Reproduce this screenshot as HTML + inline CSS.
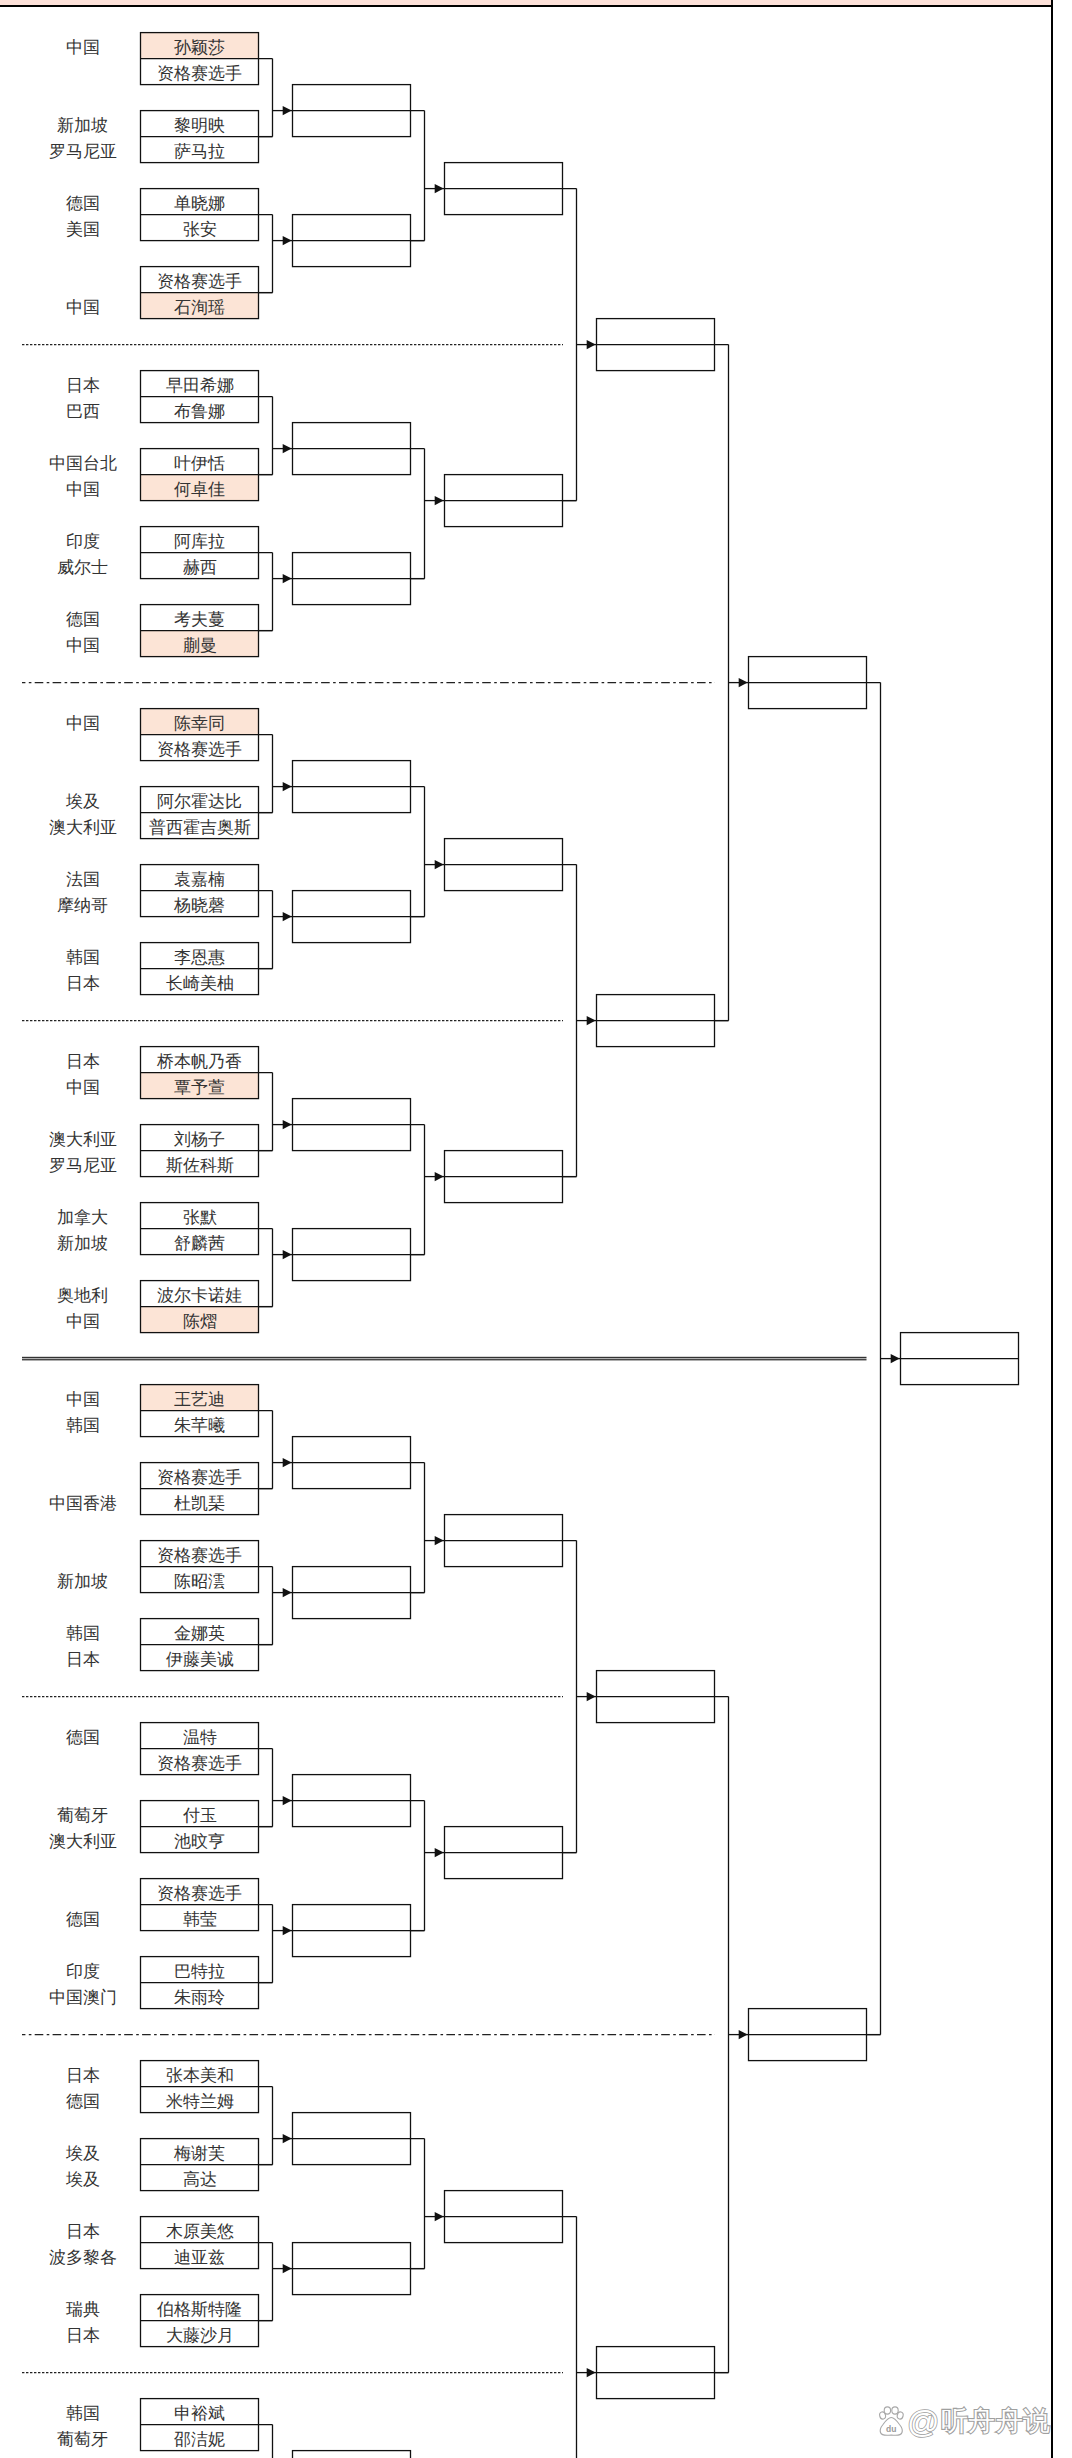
<!DOCTYPE html>
<html><head><meta charset="utf-8"><style>
html,body{margin:0;padding:0;background:#fff;}
body{width:1072px;height:2458px;position:relative;overflow:hidden;font-family:"Liberation Sans",sans-serif;}
#top{position:absolute;left:0;top:0;width:1052px;height:5px;background:#FDE1D9;}
#topl{position:absolute;left:0;top:5px;width:1053px;height:2px;background:#000;}
#rl{position:absolute;left:1051px;top:0;width:2px;height:2458px;background:#000;}
svg{position:absolute;left:0;top:0;}
.c,.n{position:absolute;height:26px;line-height:26px;font-size:16.5px;color:#333;white-space:nowrap;transform:translateX(-50%);margin-top:1.5px;}

.wt{position:absolute;left:29px;top:0;font-size:27px;line-height:34px;color:#fff;white-space:nowrap;
 text-shadow:-1px -1px 0 #aaa,1px -1px 0 #aaa,-1px 1px 0 #aaa,1px 1px 0 #aaa,0 1px 0 #aaa,0 -1px 0 #aaa,1px 0 0 #aaa,-1px 0 0 #aaa;}
</style></head><body>
<div id="top"></div><div id="topl"></div>
<svg width="1072" height="2458" viewBox="0 0 1072 2458" shape-rendering="auto">
<rect x="140.5" y="32.6" width="118" height="26" fill="#FCE4D6"/>
<rect x="140.5" y="292.6" width="118" height="26" fill="#FCE4D6"/>
<rect x="140.5" y="474.6" width="118" height="26" fill="#FCE4D6"/>
<rect x="140.5" y="630.6" width="118" height="26" fill="#FCE4D6"/>
<rect x="140.5" y="708.6" width="118" height="26" fill="#FCE4D6"/>
<rect x="140.5" y="1072.6" width="118" height="26" fill="#FCE4D6"/>
<rect x="140.5" y="1306.6" width="118" height="26" fill="#FCE4D6"/>
<rect x="140.5" y="1384.6" width="118" height="26" fill="#FCE4D6"/>
<rect x="140.5" y="32.6" width="118" height="52" fill="none" stroke="#111" stroke-width="1.3"/>
<line x1="140.5" y1="58.6" x2="272.5" y2="58.6" stroke="#111" stroke-width="1.3"/>
<rect x="140.5" y="110.6" width="118" height="52" fill="none" stroke="#111" stroke-width="1.3"/>
<line x1="140.5" y1="136.6" x2="272.5" y2="136.6" stroke="#111" stroke-width="1.3"/>
<rect x="140.5" y="188.6" width="118" height="52" fill="none" stroke="#111" stroke-width="1.3"/>
<line x1="140.5" y1="214.6" x2="272.5" y2="214.6" stroke="#111" stroke-width="1.3"/>
<rect x="140.5" y="266.6" width="118" height="52" fill="none" stroke="#111" stroke-width="1.3"/>
<line x1="140.5" y1="292.6" x2="272.5" y2="292.6" stroke="#111" stroke-width="1.3"/>
<line x1="272.5" y1="58.6" x2="272.5" y2="136.6" stroke="#111" stroke-width="1.3"/>
<line x1="272.5" y1="136.6" x2="258.5" y2="136.6" stroke="#111" stroke-width="1.3"/>
<line x1="272.5" y1="110.6" x2="292.5" y2="110.6" stroke="#111" stroke-width="1.3"/>
<path d="M291.7 110.6L282.7 106L282.7 115.2Z" fill="#111"/>
<rect x="292.5" y="84.6" width="118" height="52" fill="none" stroke="#111" stroke-width="1.3"/>
<line x1="292.5" y1="110.6" x2="424.5" y2="110.6" stroke="#111" stroke-width="1.3"/>
<line x1="272.5" y1="214.6" x2="272.5" y2="292.6" stroke="#111" stroke-width="1.3"/>
<line x1="272.5" y1="292.6" x2="258.5" y2="292.6" stroke="#111" stroke-width="1.3"/>
<line x1="272.5" y1="240.6" x2="292.5" y2="240.6" stroke="#111" stroke-width="1.3"/>
<path d="M291.7 240.6L282.7 236L282.7 245.2Z" fill="#111"/>
<rect x="292.5" y="214.6" width="118" height="52" fill="none" stroke="#111" stroke-width="1.3"/>
<line x1="292.5" y1="240.6" x2="424.5" y2="240.6" stroke="#111" stroke-width="1.3"/>
<line x1="424.5" y1="110.6" x2="424.5" y2="240.6" stroke="#111" stroke-width="1.3"/>
<line x1="424.5" y1="240.6" x2="410.5" y2="240.6" stroke="#111" stroke-width="1.3"/>
<line x1="424.5" y1="188.6" x2="444.5" y2="188.6" stroke="#111" stroke-width="1.3"/>
<path d="M443.7 188.6L434.7 184L434.7 193.2Z" fill="#111"/>
<rect x="444.5" y="162.6" width="118" height="52" fill="none" stroke="#111" stroke-width="1.3"/>
<line x1="444.5" y1="188.6" x2="576.5" y2="188.6" stroke="#111" stroke-width="1.3"/>
<rect x="140.5" y="370.6" width="118" height="52" fill="none" stroke="#111" stroke-width="1.3"/>
<line x1="140.5" y1="396.6" x2="272.5" y2="396.6" stroke="#111" stroke-width="1.3"/>
<rect x="140.5" y="448.6" width="118" height="52" fill="none" stroke="#111" stroke-width="1.3"/>
<line x1="140.5" y1="474.6" x2="272.5" y2="474.6" stroke="#111" stroke-width="1.3"/>
<rect x="140.5" y="526.6" width="118" height="52" fill="none" stroke="#111" stroke-width="1.3"/>
<line x1="140.5" y1="552.6" x2="272.5" y2="552.6" stroke="#111" stroke-width="1.3"/>
<rect x="140.5" y="604.6" width="118" height="52" fill="none" stroke="#111" stroke-width="1.3"/>
<line x1="140.5" y1="630.6" x2="272.5" y2="630.6" stroke="#111" stroke-width="1.3"/>
<line x1="272.5" y1="396.6" x2="272.5" y2="474.6" stroke="#111" stroke-width="1.3"/>
<line x1="272.5" y1="474.6" x2="258.5" y2="474.6" stroke="#111" stroke-width="1.3"/>
<line x1="272.5" y1="448.6" x2="292.5" y2="448.6" stroke="#111" stroke-width="1.3"/>
<path d="M291.7 448.6L282.7 444L282.7 453.2Z" fill="#111"/>
<rect x="292.5" y="422.6" width="118" height="52" fill="none" stroke="#111" stroke-width="1.3"/>
<line x1="292.5" y1="448.6" x2="424.5" y2="448.6" stroke="#111" stroke-width="1.3"/>
<line x1="272.5" y1="552.6" x2="272.5" y2="630.6" stroke="#111" stroke-width="1.3"/>
<line x1="272.5" y1="630.6" x2="258.5" y2="630.6" stroke="#111" stroke-width="1.3"/>
<line x1="272.5" y1="578.6" x2="292.5" y2="578.6" stroke="#111" stroke-width="1.3"/>
<path d="M291.7 578.6L282.7 574L282.7 583.2Z" fill="#111"/>
<rect x="292.5" y="552.6" width="118" height="52" fill="none" stroke="#111" stroke-width="1.3"/>
<line x1="292.5" y1="578.6" x2="424.5" y2="578.6" stroke="#111" stroke-width="1.3"/>
<line x1="424.5" y1="448.6" x2="424.5" y2="578.6" stroke="#111" stroke-width="1.3"/>
<line x1="424.5" y1="578.6" x2="410.5" y2="578.6" stroke="#111" stroke-width="1.3"/>
<line x1="424.5" y1="500.6" x2="444.5" y2="500.6" stroke="#111" stroke-width="1.3"/>
<path d="M443.7 500.6L434.7 496L434.7 505.2Z" fill="#111"/>
<rect x="444.5" y="474.6" width="118" height="52" fill="none" stroke="#111" stroke-width="1.3"/>
<line x1="444.5" y1="500.6" x2="576.5" y2="500.6" stroke="#111" stroke-width="1.3"/>
<rect x="140.5" y="708.6" width="118" height="52" fill="none" stroke="#111" stroke-width="1.3"/>
<line x1="140.5" y1="734.6" x2="272.5" y2="734.6" stroke="#111" stroke-width="1.3"/>
<rect x="140.5" y="786.6" width="118" height="52" fill="none" stroke="#111" stroke-width="1.3"/>
<line x1="140.5" y1="812.6" x2="272.5" y2="812.6" stroke="#111" stroke-width="1.3"/>
<rect x="140.5" y="864.6" width="118" height="52" fill="none" stroke="#111" stroke-width="1.3"/>
<line x1="140.5" y1="890.6" x2="272.5" y2="890.6" stroke="#111" stroke-width="1.3"/>
<rect x="140.5" y="942.6" width="118" height="52" fill="none" stroke="#111" stroke-width="1.3"/>
<line x1="140.5" y1="968.6" x2="272.5" y2="968.6" stroke="#111" stroke-width="1.3"/>
<line x1="272.5" y1="734.6" x2="272.5" y2="812.6" stroke="#111" stroke-width="1.3"/>
<line x1="272.5" y1="812.6" x2="258.5" y2="812.6" stroke="#111" stroke-width="1.3"/>
<line x1="272.5" y1="786.6" x2="292.5" y2="786.6" stroke="#111" stroke-width="1.3"/>
<path d="M291.7 786.6L282.7 782L282.7 791.2Z" fill="#111"/>
<rect x="292.5" y="760.6" width="118" height="52" fill="none" stroke="#111" stroke-width="1.3"/>
<line x1="292.5" y1="786.6" x2="424.5" y2="786.6" stroke="#111" stroke-width="1.3"/>
<line x1="272.5" y1="890.6" x2="272.5" y2="968.6" stroke="#111" stroke-width="1.3"/>
<line x1="272.5" y1="968.6" x2="258.5" y2="968.6" stroke="#111" stroke-width="1.3"/>
<line x1="272.5" y1="916.6" x2="292.5" y2="916.6" stroke="#111" stroke-width="1.3"/>
<path d="M291.7 916.6L282.7 912L282.7 921.2Z" fill="#111"/>
<rect x="292.5" y="890.6" width="118" height="52" fill="none" stroke="#111" stroke-width="1.3"/>
<line x1="292.5" y1="916.6" x2="424.5" y2="916.6" stroke="#111" stroke-width="1.3"/>
<line x1="424.5" y1="786.6" x2="424.5" y2="916.6" stroke="#111" stroke-width="1.3"/>
<line x1="424.5" y1="916.6" x2="410.5" y2="916.6" stroke="#111" stroke-width="1.3"/>
<line x1="424.5" y1="864.6" x2="444.5" y2="864.6" stroke="#111" stroke-width="1.3"/>
<path d="M443.7 864.6L434.7 860L434.7 869.2Z" fill="#111"/>
<rect x="444.5" y="838.6" width="118" height="52" fill="none" stroke="#111" stroke-width="1.3"/>
<line x1="444.5" y1="864.6" x2="576.5" y2="864.6" stroke="#111" stroke-width="1.3"/>
<rect x="140.5" y="1046.6" width="118" height="52" fill="none" stroke="#111" stroke-width="1.3"/>
<line x1="140.5" y1="1072.6" x2="272.5" y2="1072.6" stroke="#111" stroke-width="1.3"/>
<rect x="140.5" y="1124.6" width="118" height="52" fill="none" stroke="#111" stroke-width="1.3"/>
<line x1="140.5" y1="1150.6" x2="272.5" y2="1150.6" stroke="#111" stroke-width="1.3"/>
<rect x="140.5" y="1202.6" width="118" height="52" fill="none" stroke="#111" stroke-width="1.3"/>
<line x1="140.5" y1="1228.6" x2="272.5" y2="1228.6" stroke="#111" stroke-width="1.3"/>
<rect x="140.5" y="1280.6" width="118" height="52" fill="none" stroke="#111" stroke-width="1.3"/>
<line x1="140.5" y1="1306.6" x2="272.5" y2="1306.6" stroke="#111" stroke-width="1.3"/>
<line x1="272.5" y1="1072.6" x2="272.5" y2="1150.6" stroke="#111" stroke-width="1.3"/>
<line x1="272.5" y1="1150.6" x2="258.5" y2="1150.6" stroke="#111" stroke-width="1.3"/>
<line x1="272.5" y1="1124.6" x2="292.5" y2="1124.6" stroke="#111" stroke-width="1.3"/>
<path d="M291.7 1124.6L282.7 1120L282.7 1129.2Z" fill="#111"/>
<rect x="292.5" y="1098.6" width="118" height="52" fill="none" stroke="#111" stroke-width="1.3"/>
<line x1="292.5" y1="1124.6" x2="424.5" y2="1124.6" stroke="#111" stroke-width="1.3"/>
<line x1="272.5" y1="1228.6" x2="272.5" y2="1306.6" stroke="#111" stroke-width="1.3"/>
<line x1="272.5" y1="1306.6" x2="258.5" y2="1306.6" stroke="#111" stroke-width="1.3"/>
<line x1="272.5" y1="1254.6" x2="292.5" y2="1254.6" stroke="#111" stroke-width="1.3"/>
<path d="M291.7 1254.6L282.7 1250L282.7 1259.2Z" fill="#111"/>
<rect x="292.5" y="1228.6" width="118" height="52" fill="none" stroke="#111" stroke-width="1.3"/>
<line x1="292.5" y1="1254.6" x2="424.5" y2="1254.6" stroke="#111" stroke-width="1.3"/>
<line x1="424.5" y1="1124.6" x2="424.5" y2="1254.6" stroke="#111" stroke-width="1.3"/>
<line x1="424.5" y1="1254.6" x2="410.5" y2="1254.6" stroke="#111" stroke-width="1.3"/>
<line x1="424.5" y1="1176.6" x2="444.5" y2="1176.6" stroke="#111" stroke-width="1.3"/>
<path d="M443.7 1176.6L434.7 1172L434.7 1181.2Z" fill="#111"/>
<rect x="444.5" y="1150.6" width="118" height="52" fill="none" stroke="#111" stroke-width="1.3"/>
<line x1="444.5" y1="1176.6" x2="576.5" y2="1176.6" stroke="#111" stroke-width="1.3"/>
<rect x="140.5" y="1384.6" width="118" height="52" fill="none" stroke="#111" stroke-width="1.3"/>
<line x1="140.5" y1="1410.6" x2="272.5" y2="1410.6" stroke="#111" stroke-width="1.3"/>
<rect x="140.5" y="1462.6" width="118" height="52" fill="none" stroke="#111" stroke-width="1.3"/>
<line x1="140.5" y1="1488.6" x2="272.5" y2="1488.6" stroke="#111" stroke-width="1.3"/>
<rect x="140.5" y="1540.6" width="118" height="52" fill="none" stroke="#111" stroke-width="1.3"/>
<line x1="140.5" y1="1566.6" x2="272.5" y2="1566.6" stroke="#111" stroke-width="1.3"/>
<rect x="140.5" y="1618.6" width="118" height="52" fill="none" stroke="#111" stroke-width="1.3"/>
<line x1="140.5" y1="1644.6" x2="272.5" y2="1644.6" stroke="#111" stroke-width="1.3"/>
<line x1="272.5" y1="1410.6" x2="272.5" y2="1488.6" stroke="#111" stroke-width="1.3"/>
<line x1="272.5" y1="1488.6" x2="258.5" y2="1488.6" stroke="#111" stroke-width="1.3"/>
<line x1="272.5" y1="1462.6" x2="292.5" y2="1462.6" stroke="#111" stroke-width="1.3"/>
<path d="M291.7 1462.6L282.7 1458L282.7 1467.2Z" fill="#111"/>
<rect x="292.5" y="1436.6" width="118" height="52" fill="none" stroke="#111" stroke-width="1.3"/>
<line x1="292.5" y1="1462.6" x2="424.5" y2="1462.6" stroke="#111" stroke-width="1.3"/>
<line x1="272.5" y1="1566.6" x2="272.5" y2="1644.6" stroke="#111" stroke-width="1.3"/>
<line x1="272.5" y1="1644.6" x2="258.5" y2="1644.6" stroke="#111" stroke-width="1.3"/>
<line x1="272.5" y1="1592.6" x2="292.5" y2="1592.6" stroke="#111" stroke-width="1.3"/>
<path d="M291.7 1592.6L282.7 1588L282.7 1597.2Z" fill="#111"/>
<rect x="292.5" y="1566.6" width="118" height="52" fill="none" stroke="#111" stroke-width="1.3"/>
<line x1="292.5" y1="1592.6" x2="424.5" y2="1592.6" stroke="#111" stroke-width="1.3"/>
<line x1="424.5" y1="1462.6" x2="424.5" y2="1592.6" stroke="#111" stroke-width="1.3"/>
<line x1="424.5" y1="1592.6" x2="410.5" y2="1592.6" stroke="#111" stroke-width="1.3"/>
<line x1="424.5" y1="1540.6" x2="444.5" y2="1540.6" stroke="#111" stroke-width="1.3"/>
<path d="M443.7 1540.6L434.7 1536L434.7 1545.2Z" fill="#111"/>
<rect x="444.5" y="1514.6" width="118" height="52" fill="none" stroke="#111" stroke-width="1.3"/>
<line x1="444.5" y1="1540.6" x2="576.5" y2="1540.6" stroke="#111" stroke-width="1.3"/>
<rect x="140.5" y="1722.6" width="118" height="52" fill="none" stroke="#111" stroke-width="1.3"/>
<line x1="140.5" y1="1748.6" x2="272.5" y2="1748.6" stroke="#111" stroke-width="1.3"/>
<rect x="140.5" y="1800.6" width="118" height="52" fill="none" stroke="#111" stroke-width="1.3"/>
<line x1="140.5" y1="1826.6" x2="272.5" y2="1826.6" stroke="#111" stroke-width="1.3"/>
<rect x="140.5" y="1878.6" width="118" height="52" fill="none" stroke="#111" stroke-width="1.3"/>
<line x1="140.5" y1="1904.6" x2="272.5" y2="1904.6" stroke="#111" stroke-width="1.3"/>
<rect x="140.5" y="1956.6" width="118" height="52" fill="none" stroke="#111" stroke-width="1.3"/>
<line x1="140.5" y1="1982.6" x2="272.5" y2="1982.6" stroke="#111" stroke-width="1.3"/>
<line x1="272.5" y1="1748.6" x2="272.5" y2="1826.6" stroke="#111" stroke-width="1.3"/>
<line x1="272.5" y1="1826.6" x2="258.5" y2="1826.6" stroke="#111" stroke-width="1.3"/>
<line x1="272.5" y1="1800.6" x2="292.5" y2="1800.6" stroke="#111" stroke-width="1.3"/>
<path d="M291.7 1800.6L282.7 1796L282.7 1805.2Z" fill="#111"/>
<rect x="292.5" y="1774.6" width="118" height="52" fill="none" stroke="#111" stroke-width="1.3"/>
<line x1="292.5" y1="1800.6" x2="424.5" y2="1800.6" stroke="#111" stroke-width="1.3"/>
<line x1="272.5" y1="1904.6" x2="272.5" y2="1982.6" stroke="#111" stroke-width="1.3"/>
<line x1="272.5" y1="1982.6" x2="258.5" y2="1982.6" stroke="#111" stroke-width="1.3"/>
<line x1="272.5" y1="1930.6" x2="292.5" y2="1930.6" stroke="#111" stroke-width="1.3"/>
<path d="M291.7 1930.6L282.7 1926L282.7 1935.2Z" fill="#111"/>
<rect x="292.5" y="1904.6" width="118" height="52" fill="none" stroke="#111" stroke-width="1.3"/>
<line x1="292.5" y1="1930.6" x2="424.5" y2="1930.6" stroke="#111" stroke-width="1.3"/>
<line x1="424.5" y1="1800.6" x2="424.5" y2="1930.6" stroke="#111" stroke-width="1.3"/>
<line x1="424.5" y1="1930.6" x2="410.5" y2="1930.6" stroke="#111" stroke-width="1.3"/>
<line x1="424.5" y1="1852.6" x2="444.5" y2="1852.6" stroke="#111" stroke-width="1.3"/>
<path d="M443.7 1852.6L434.7 1848L434.7 1857.2Z" fill="#111"/>
<rect x="444.5" y="1826.6" width="118" height="52" fill="none" stroke="#111" stroke-width="1.3"/>
<line x1="444.5" y1="1852.6" x2="576.5" y2="1852.6" stroke="#111" stroke-width="1.3"/>
<rect x="140.5" y="2060.6" width="118" height="52" fill="none" stroke="#111" stroke-width="1.3"/>
<line x1="140.5" y1="2086.6" x2="272.5" y2="2086.6" stroke="#111" stroke-width="1.3"/>
<rect x="140.5" y="2138.6" width="118" height="52" fill="none" stroke="#111" stroke-width="1.3"/>
<line x1="140.5" y1="2164.6" x2="272.5" y2="2164.6" stroke="#111" stroke-width="1.3"/>
<rect x="140.5" y="2216.6" width="118" height="52" fill="none" stroke="#111" stroke-width="1.3"/>
<line x1="140.5" y1="2242.6" x2="272.5" y2="2242.6" stroke="#111" stroke-width="1.3"/>
<rect x="140.5" y="2294.6" width="118" height="52" fill="none" stroke="#111" stroke-width="1.3"/>
<line x1="140.5" y1="2320.6" x2="272.5" y2="2320.6" stroke="#111" stroke-width="1.3"/>
<line x1="272.5" y1="2086.6" x2="272.5" y2="2164.6" stroke="#111" stroke-width="1.3"/>
<line x1="272.5" y1="2164.6" x2="258.5" y2="2164.6" stroke="#111" stroke-width="1.3"/>
<line x1="272.5" y1="2138.6" x2="292.5" y2="2138.6" stroke="#111" stroke-width="1.3"/>
<path d="M291.7 2138.6L282.7 2134L282.7 2143.2Z" fill="#111"/>
<rect x="292.5" y="2112.6" width="118" height="52" fill="none" stroke="#111" stroke-width="1.3"/>
<line x1="292.5" y1="2138.6" x2="424.5" y2="2138.6" stroke="#111" stroke-width="1.3"/>
<line x1="272.5" y1="2242.6" x2="272.5" y2="2320.6" stroke="#111" stroke-width="1.3"/>
<line x1="272.5" y1="2320.6" x2="258.5" y2="2320.6" stroke="#111" stroke-width="1.3"/>
<line x1="272.5" y1="2268.6" x2="292.5" y2="2268.6" stroke="#111" stroke-width="1.3"/>
<path d="M291.7 2268.6L282.7 2264L282.7 2273.2Z" fill="#111"/>
<rect x="292.5" y="2242.6" width="118" height="52" fill="none" stroke="#111" stroke-width="1.3"/>
<line x1="292.5" y1="2268.6" x2="424.5" y2="2268.6" stroke="#111" stroke-width="1.3"/>
<line x1="424.5" y1="2138.6" x2="424.5" y2="2268.6" stroke="#111" stroke-width="1.3"/>
<line x1="424.5" y1="2268.6" x2="410.5" y2="2268.6" stroke="#111" stroke-width="1.3"/>
<line x1="424.5" y1="2216.6" x2="444.5" y2="2216.6" stroke="#111" stroke-width="1.3"/>
<path d="M443.7 2216.6L434.7 2212L434.7 2221.2Z" fill="#111"/>
<rect x="444.5" y="2190.6" width="118" height="52" fill="none" stroke="#111" stroke-width="1.3"/>
<line x1="444.5" y1="2216.6" x2="576.5" y2="2216.6" stroke="#111" stroke-width="1.3"/>
<rect x="140.5" y="2398.6" width="118" height="52" fill="none" stroke="#111" stroke-width="1.3"/>
<line x1="140.5" y1="2424.6" x2="272.5" y2="2424.6" stroke="#111" stroke-width="1.3"/>
<rect x="140.5" y="2476.6" width="118" height="52" fill="none" stroke="#111" stroke-width="1.3"/>
<line x1="140.5" y1="2502.6" x2="272.5" y2="2502.6" stroke="#111" stroke-width="1.3"/>
<rect x="140.5" y="2554.6" width="118" height="52" fill="none" stroke="#111" stroke-width="1.3"/>
<line x1="140.5" y1="2580.6" x2="272.5" y2="2580.6" stroke="#111" stroke-width="1.3"/>
<rect x="140.5" y="2632.6" width="118" height="52" fill="none" stroke="#111" stroke-width="1.3"/>
<line x1="140.5" y1="2658.6" x2="272.5" y2="2658.6" stroke="#111" stroke-width="1.3"/>
<line x1="272.5" y1="2424.6" x2="272.5" y2="2502.6" stroke="#111" stroke-width="1.3"/>
<line x1="272.5" y1="2502.6" x2="258.5" y2="2502.6" stroke="#111" stroke-width="1.3"/>
<line x1="272.5" y1="2476.6" x2="292.5" y2="2476.6" stroke="#111" stroke-width="1.3"/>
<path d="M291.7 2476.6L282.7 2472L282.7 2481.2Z" fill="#111"/>
<rect x="292.5" y="2450.6" width="118" height="52" fill="none" stroke="#111" stroke-width="1.3"/>
<line x1="292.5" y1="2476.6" x2="424.5" y2="2476.6" stroke="#111" stroke-width="1.3"/>
<line x1="272.5" y1="2580.6" x2="272.5" y2="2658.6" stroke="#111" stroke-width="1.3"/>
<line x1="272.5" y1="2658.6" x2="258.5" y2="2658.6" stroke="#111" stroke-width="1.3"/>
<line x1="272.5" y1="2606.6" x2="292.5" y2="2606.6" stroke="#111" stroke-width="1.3"/>
<path d="M291.7 2606.6L282.7 2602L282.7 2611.2Z" fill="#111"/>
<rect x="292.5" y="2580.6" width="118" height="52" fill="none" stroke="#111" stroke-width="1.3"/>
<line x1="292.5" y1="2606.6" x2="424.5" y2="2606.6" stroke="#111" stroke-width="1.3"/>
<line x1="424.5" y1="2476.6" x2="424.5" y2="2606.6" stroke="#111" stroke-width="1.3"/>
<line x1="424.5" y1="2606.6" x2="410.5" y2="2606.6" stroke="#111" stroke-width="1.3"/>
<line x1="424.5" y1="2528.6" x2="444.5" y2="2528.6" stroke="#111" stroke-width="1.3"/>
<path d="M443.7 2528.6L434.7 2524L434.7 2533.2Z" fill="#111"/>
<rect x="444.5" y="2502.6" width="118" height="52" fill="none" stroke="#111" stroke-width="1.3"/>
<line x1="444.5" y1="2528.6" x2="576.5" y2="2528.6" stroke="#111" stroke-width="1.3"/>
<line x1="576.5" y1="188.6" x2="576.5" y2="500.6" stroke="#111" stroke-width="1.3"/>
<line x1="576.5" y1="500.6" x2="562.5" y2="500.6" stroke="#111" stroke-width="1.3"/>
<line x1="576.5" y1="344.6" x2="596.5" y2="344.6" stroke="#111" stroke-width="1.3"/>
<path d="M595.7 344.6L586.7 340L586.7 349.2Z" fill="#111"/>
<rect x="596.5" y="318.6" width="118" height="52" fill="none" stroke="#111" stroke-width="1.3"/>
<line x1="596.5" y1="344.6" x2="728.5" y2="344.6" stroke="#111" stroke-width="1.3"/>
<line x1="576.5" y1="864.6" x2="576.5" y2="1176.6" stroke="#111" stroke-width="1.3"/>
<line x1="576.5" y1="1176.6" x2="562.5" y2="1176.6" stroke="#111" stroke-width="1.3"/>
<line x1="576.5" y1="1020.6" x2="596.5" y2="1020.6" stroke="#111" stroke-width="1.3"/>
<path d="M595.7 1020.6L586.7 1016L586.7 1025.2Z" fill="#111"/>
<rect x="596.5" y="994.6" width="118" height="52" fill="none" stroke="#111" stroke-width="1.3"/>
<line x1="596.5" y1="1020.6" x2="728.5" y2="1020.6" stroke="#111" stroke-width="1.3"/>
<line x1="728.5" y1="344.6" x2="728.5" y2="1020.6" stroke="#111" stroke-width="1.3"/>
<line x1="728.5" y1="1020.6" x2="714.5" y2="1020.6" stroke="#111" stroke-width="1.3"/>
<line x1="728.5" y1="682.6" x2="748.5" y2="682.6" stroke="#111" stroke-width="1.3"/>
<path d="M747.7 682.6L738.7 678L738.7 687.2Z" fill="#111"/>
<rect x="748.5" y="656.6" width="118" height="52" fill="none" stroke="#111" stroke-width="1.3"/>
<line x1="748.5" y1="682.6" x2="880.5" y2="682.6" stroke="#111" stroke-width="1.3"/>
<line x1="576.5" y1="1540.6" x2="576.5" y2="1852.6" stroke="#111" stroke-width="1.3"/>
<line x1="576.5" y1="1852.6" x2="562.5" y2="1852.6" stroke="#111" stroke-width="1.3"/>
<line x1="576.5" y1="1696.6" x2="596.5" y2="1696.6" stroke="#111" stroke-width="1.3"/>
<path d="M595.7 1696.6L586.7 1692L586.7 1701.2Z" fill="#111"/>
<rect x="596.5" y="1670.6" width="118" height="52" fill="none" stroke="#111" stroke-width="1.3"/>
<line x1="596.5" y1="1696.6" x2="728.5" y2="1696.6" stroke="#111" stroke-width="1.3"/>
<line x1="576.5" y1="2216.6" x2="576.5" y2="2528.6" stroke="#111" stroke-width="1.3"/>
<line x1="576.5" y1="2528.6" x2="562.5" y2="2528.6" stroke="#111" stroke-width="1.3"/>
<line x1="576.5" y1="2372.6" x2="596.5" y2="2372.6" stroke="#111" stroke-width="1.3"/>
<path d="M595.7 2372.6L586.7 2368L586.7 2377.2Z" fill="#111"/>
<rect x="596.5" y="2346.6" width="118" height="52" fill="none" stroke="#111" stroke-width="1.3"/>
<line x1="596.5" y1="2372.6" x2="728.5" y2="2372.6" stroke="#111" stroke-width="1.3"/>
<line x1="728.5" y1="1696.6" x2="728.5" y2="2372.6" stroke="#111" stroke-width="1.3"/>
<line x1="728.5" y1="2372.6" x2="714.5" y2="2372.6" stroke="#111" stroke-width="1.3"/>
<line x1="728.5" y1="2034.6" x2="748.5" y2="2034.6" stroke="#111" stroke-width="1.3"/>
<path d="M747.7 2034.6L738.7 2030L738.7 2039.2Z" fill="#111"/>
<rect x="748.5" y="2008.6" width="118" height="52" fill="none" stroke="#111" stroke-width="1.3"/>
<line x1="748.5" y1="2034.6" x2="880.5" y2="2034.6" stroke="#111" stroke-width="1.3"/>
<line x1="880.5" y1="682.6" x2="880.5" y2="2034.6" stroke="#111" stroke-width="1.3"/>
<line x1="880.5" y1="2034.6" x2="866.5" y2="2034.6" stroke="#111" stroke-width="1.3"/>
<line x1="880.5" y1="1358.6" x2="900.5" y2="1358.6" stroke="#111" stroke-width="1.3"/>
<path d="M899.7 1358.6L890.7 1354L890.7 1363.2Z" fill="#111"/>
<rect x="900.5" y="1332.6" width="118" height="52" fill="none" stroke="#111" stroke-width="1.3"/>
<line x1="900.5" y1="1358.6" x2="1018.5" y2="1358.6" stroke="#111" stroke-width="1.3"/>
<line x1="22" y1="344.6" x2="563" y2="344.6" stroke="#222" stroke-width="1.3" stroke-dasharray="2.4 1.6"/>
<line x1="22" y1="1020.6" x2="563" y2="1020.6" stroke="#222" stroke-width="1.3" stroke-dasharray="2.4 1.6"/>
<line x1="22" y1="682.6" x2="715" y2="682.6" stroke="#222" stroke-width="1.3" stroke-dasharray="8.6 3.4 2.6 3.3" stroke-dashoffset="5.2"/>
<line x1="22" y1="1696.6" x2="563" y2="1696.6" stroke="#222" stroke-width="1.3" stroke-dasharray="2.4 1.6"/>
<line x1="22" y1="2372.6" x2="563" y2="2372.6" stroke="#222" stroke-width="1.3" stroke-dasharray="2.4 1.6"/>
<line x1="22" y1="2034.6" x2="715" y2="2034.6" stroke="#222" stroke-width="1.3" stroke-dasharray="8.6 3.4 2.6 3.3" stroke-dashoffset="5.2"/>
<rect x="22" y="1356.8" width="844.5" height="1.3" fill="#333"/>
<rect x="22" y="1358.1" width="844.5" height="1" fill="#aaa"/>
<rect x="22" y="1359.1" width="844.5" height="1.3" fill="#333"/>
</svg>
<div class="c" style="left:82.5px;top:32.6px">中国</div>
<div class="n" style="left:199.5px;top:32.6px">孙颖莎</div>
<div class="n" style="left:199.5px;top:58.6px">资格赛选手</div>
<div class="c" style="left:82.5px;top:110.6px">新加坡</div>
<div class="n" style="left:199.5px;top:110.6px">黎明映</div>
<div class="c" style="left:82.5px;top:136.6px">罗马尼亚</div>
<div class="n" style="left:199.5px;top:136.6px">萨马拉</div>
<div class="c" style="left:82.5px;top:188.6px">德国</div>
<div class="n" style="left:199.5px;top:188.6px">单晓娜</div>
<div class="c" style="left:82.5px;top:214.6px">美国</div>
<div class="n" style="left:199.5px;top:214.6px">张安</div>
<div class="n" style="left:199.5px;top:266.6px">资格赛选手</div>
<div class="c" style="left:82.5px;top:292.6px">中国</div>
<div class="n" style="left:199.5px;top:292.6px">石洵瑶</div>
<div class="c" style="left:82.5px;top:370.6px">日本</div>
<div class="n" style="left:199.5px;top:370.6px">早田希娜</div>
<div class="c" style="left:82.5px;top:396.6px">巴西</div>
<div class="n" style="left:199.5px;top:396.6px">布鲁娜</div>
<div class="c" style="left:82.5px;top:448.6px">中国台北</div>
<div class="n" style="left:199.5px;top:448.6px">叶伊恬</div>
<div class="c" style="left:82.5px;top:474.6px">中国</div>
<div class="n" style="left:199.5px;top:474.6px">何卓佳</div>
<div class="c" style="left:82.5px;top:526.6px">印度</div>
<div class="n" style="left:199.5px;top:526.6px">阿库拉</div>
<div class="c" style="left:82.5px;top:552.6px">威尔士</div>
<div class="n" style="left:199.5px;top:552.6px">赫西</div>
<div class="c" style="left:82.5px;top:604.6px">德国</div>
<div class="n" style="left:199.5px;top:604.6px">考夫蔓</div>
<div class="c" style="left:82.5px;top:630.6px">中国</div>
<div class="n" style="left:199.5px;top:630.6px">蒯曼</div>
<div class="c" style="left:82.5px;top:708.6px">中国</div>
<div class="n" style="left:199.5px;top:708.6px">陈幸同</div>
<div class="n" style="left:199.5px;top:734.6px">资格赛选手</div>
<div class="c" style="left:82.5px;top:786.6px">埃及</div>
<div class="n" style="left:199.5px;top:786.6px">阿尔霍达比</div>
<div class="c" style="left:82.5px;top:812.6px">澳大利亚</div>
<div class="n" style="left:199.5px;top:812.6px">普西霍吉奥斯</div>
<div class="c" style="left:82.5px;top:864.6px">法国</div>
<div class="n" style="left:199.5px;top:864.6px">袁嘉楠</div>
<div class="c" style="left:82.5px;top:890.6px">摩纳哥</div>
<div class="n" style="left:199.5px;top:890.6px">杨晓磬</div>
<div class="c" style="left:82.5px;top:942.6px">韩国</div>
<div class="n" style="left:199.5px;top:942.6px">李恩惠</div>
<div class="c" style="left:82.5px;top:968.6px">日本</div>
<div class="n" style="left:199.5px;top:968.6px">长崎美柚</div>
<div class="c" style="left:82.5px;top:1046.6px">日本</div>
<div class="n" style="left:199.5px;top:1046.6px">桥本帆乃香</div>
<div class="c" style="left:82.5px;top:1072.6px">中国</div>
<div class="n" style="left:199.5px;top:1072.6px">覃予萱</div>
<div class="c" style="left:82.5px;top:1124.6px">澳大利亚</div>
<div class="n" style="left:199.5px;top:1124.6px">刘杨子</div>
<div class="c" style="left:82.5px;top:1150.6px">罗马尼亚</div>
<div class="n" style="left:199.5px;top:1150.6px">斯佐科斯</div>
<div class="c" style="left:82.5px;top:1202.6px">加拿大</div>
<div class="n" style="left:199.5px;top:1202.6px">张默</div>
<div class="c" style="left:82.5px;top:1228.6px">新加坡</div>
<div class="n" style="left:199.5px;top:1228.6px">舒麟茜</div>
<div class="c" style="left:82.5px;top:1280.6px">奥地利</div>
<div class="n" style="left:199.5px;top:1280.6px">波尔卡诺娃</div>
<div class="c" style="left:82.5px;top:1306.6px">中国</div>
<div class="n" style="left:199.5px;top:1306.6px">陈熠</div>
<div class="c" style="left:82.5px;top:1384.6px">中国</div>
<div class="n" style="left:199.5px;top:1384.6px">王艺迪</div>
<div class="c" style="left:82.5px;top:1410.6px">韩国</div>
<div class="n" style="left:199.5px;top:1410.6px">朱芊曦</div>
<div class="n" style="left:199.5px;top:1462.6px">资格赛选手</div>
<div class="c" style="left:82.5px;top:1488.6px">中国香港</div>
<div class="n" style="left:199.5px;top:1488.6px">杜凯琹</div>
<div class="n" style="left:199.5px;top:1540.6px">资格赛选手</div>
<div class="c" style="left:82.5px;top:1566.6px">新加坡</div>
<div class="n" style="left:199.5px;top:1566.6px">陈昭澐</div>
<div class="c" style="left:82.5px;top:1618.6px">韩国</div>
<div class="n" style="left:199.5px;top:1618.6px">金娜英</div>
<div class="c" style="left:82.5px;top:1644.6px">日本</div>
<div class="n" style="left:199.5px;top:1644.6px">伊藤美诚</div>
<div class="c" style="left:82.5px;top:1722.6px">德国</div>
<div class="n" style="left:199.5px;top:1722.6px">温特</div>
<div class="n" style="left:199.5px;top:1748.6px">资格赛选手</div>
<div class="c" style="left:82.5px;top:1800.6px">葡萄牙</div>
<div class="n" style="left:199.5px;top:1800.6px">付玉</div>
<div class="c" style="left:82.5px;top:1826.6px">澳大利亚</div>
<div class="n" style="left:199.5px;top:1826.6px">池旼亨</div>
<div class="n" style="left:199.5px;top:1878.6px">资格赛选手</div>
<div class="c" style="left:82.5px;top:1904.6px">德国</div>
<div class="n" style="left:199.5px;top:1904.6px">韩莹</div>
<div class="c" style="left:82.5px;top:1956.6px">印度</div>
<div class="n" style="left:199.5px;top:1956.6px">巴特拉</div>
<div class="c" style="left:82.5px;top:1982.6px">中国澳门</div>
<div class="n" style="left:199.5px;top:1982.6px">朱雨玲</div>
<div class="c" style="left:82.5px;top:2060.6px">日本</div>
<div class="n" style="left:199.5px;top:2060.6px">张本美和</div>
<div class="c" style="left:82.5px;top:2086.6px">德国</div>
<div class="n" style="left:199.5px;top:2086.6px">米特兰姆</div>
<div class="c" style="left:82.5px;top:2138.6px">埃及</div>
<div class="n" style="left:199.5px;top:2138.6px">梅谢芙</div>
<div class="c" style="left:82.5px;top:2164.6px">埃及</div>
<div class="n" style="left:199.5px;top:2164.6px">高达</div>
<div class="c" style="left:82.5px;top:2216.6px">日本</div>
<div class="n" style="left:199.5px;top:2216.6px">木原美悠</div>
<div class="c" style="left:82.5px;top:2242.6px">波多黎各</div>
<div class="n" style="left:199.5px;top:2242.6px">迪亚兹</div>
<div class="c" style="left:82.5px;top:2294.6px">瑞典</div>
<div class="n" style="left:199.5px;top:2294.6px">伯格斯特隆</div>
<div class="c" style="left:82.5px;top:2320.6px">日本</div>
<div class="n" style="left:199.5px;top:2320.6px">大藤沙月</div>
<div class="c" style="left:82.5px;top:2398.6px">韩国</div>
<div class="n" style="left:199.5px;top:2398.6px">申裕斌</div>
<div class="c" style="left:82.5px;top:2424.6px">葡萄牙</div>
<div class="n" style="left:199.5px;top:2424.6px">邵洁妮</div>
<div id="rl"></div>
<svg id="wm" width="200" height="50" viewBox="0 0 200 50" style="left:870px;top:2399px">
<g fill="#fff" stroke="#a8a8a8" stroke-width="1.1">
<ellipse cx="12.6" cy="16.5" rx="2.9" ry="3.6" transform="rotate(-15 12.6 16.5)"/>
<ellipse cx="17.4" cy="11.5" rx="3.2" ry="3.6"/><ellipse cx="25" cy="11.5" rx="3.2" ry="3.6"/>
<ellipse cx="30.2" cy="16.5" rx="2.9" ry="3.6" transform="rotate(15 30.2 16.5)"/>
<path d="M21.3 18.5C18 18.5 15.5 22 13 25.5C10.5 28.5 9.5 30.5 10.5 33.5C11.5 36.5 15 36.8 21.3 36C27.5 36.8 31 36.5 32 33.5C33 30.5 32 28.5 29.5 25.5C27 22 24.5 18.5 21.3 18.5Z"/>
</g>
<text x="21.3" y="33" font-size="8.5" font-weight="bold" text-anchor="middle" fill="#999" font-family="Liberation Sans">du</text>
<text x="37" y="34" font-size="32" fill="#fff" stroke="#a0a0a0" stroke-width="1.6" paint-order="stroke" font-family="Liberation Sans">@</text>
<text x="70.5" y="31.3" font-size="27" letter-spacing="0.6" fill="#fff" stroke="#a0a0a0" stroke-width="2.2" paint-order="stroke" font-family="Liberation Sans, sans-serif">听舟舟说</text>
</svg>
</body></html>
